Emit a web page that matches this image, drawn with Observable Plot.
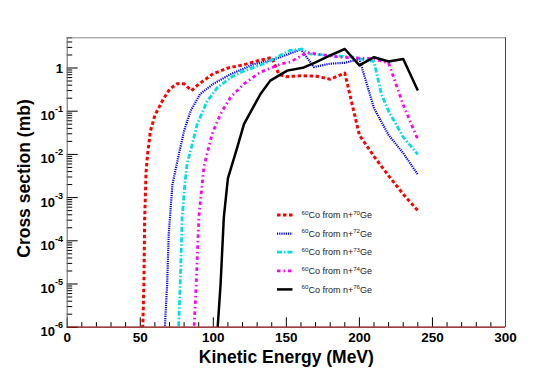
<!DOCTYPE html>
<html><head><meta charset="utf-8">
<script src="https://cdn.jsdelivr.net/npm/d3@7"></script>
<script src="https://cdn.jsdelivr.net/npm/@observablehq/plot@0.6"></script>
<style>body{margin:0;background:#fff} svg{display:block}</style>
</head><body><div id="chart"></div>
<script>
// ---- data (kinetic energy in MeV, cross section in mb) ----
const ge70E = [51.5, 52.5, 53, 54, 55, 57, 60, 65, 70, 75, 80, 85, 90, 100, 110, 120, 130, 140, 145, 150, 160, 170, 180, 190, 200, 210, 220, 230, 240];
const ge70V = [5e-7, 1e-5, 3e-4, 4e-3, 1e-2, 3.5e-2, 8e-2, 0.17, 0.32, 0.43, 0.43, 0.3, 0.42, 0.74, 1.0, 1.17, 1.45, 1.75, 0.7, 0.63, 0.66, 0.65, 0.55, 0.76, 0.028, 9e-3, 3.2e-3, 1.2e-3, 5e-4];

const ge72E = [66.5, 68.4, 69.5, 72, 76.4, 80, 84.4, 91, 100, 112, 128, 139, 150, 160, 168.8, 180, 190, 200, 210, 220, 230, 240];
const ge72V = [6e-7, 1e-5, 1.4e-4, 2e-3, 1e-2, 3.5e-2, 0.1, 0.25, 0.43, 0.72, 1.23, 1.48, 2.0, 2.7, 1.05, 1.26, 1.32, 1.6, 0.117, 0.028, 0.0107, 0.0034];

const ge73E = [76, 77.5, 78.7, 80.5, 82, 84.4, 89, 95.8, 102.7, 111.8, 120, 127.7, 137, 145, 152.8, 160.8, 166.5, 175, 185, 196, 201, 210, 215, 220, 230, 240];
const ge73V = [6e-7, 1.4e-5, 3.5e-4, 2e-3, 6e-3, 1.2e-2, 0.05, 0.17, 0.35, 0.6, 0.83, 1.03, 1.35, 1.9, 2.57, 2.75, 2.1, 2.0, 1.9, 1.78, 1.62, 1.41, 0.25, 0.1, 0.025, 0.01];

const ge74E = [86.5, 88.3, 90.1, 93.5, 96.2, 99.2, 105, 111.8, 121, 132.3, 146, 152.8, 164.3, 171, 187, 200, 210, 220, 230, 240];
const ge74V = [6e-7, 1e-5, 3.5e-4, 5e-3, 1.2e-2, 3e-2, 0.087, 0.21, 0.43, 0.8, 1.23, 1.38, 2.3, 2.1, 1.78, 1.7, 1.62, 1.3, 0.14, 0.022];

const ge76E = [102.8, 105, 107.2, 110, 116.4, 121, 132.3, 139, 150.6, 162, 170, 180, 190, 200, 210, 220, 230, 240];
const ge76V = [8e-7, 1e-5, 3.5e-4, 2.8e-3, 1.45e-2, 0.05, 0.25, 0.51, 0.87, 1.03, 1.35, 1.95, 2.75, 1.15, 1.78, 1.41, 1.62, 0.3];

const targets = ["70", "72", "73", "74", "76"];
const xMajor = [0, 50, 100, 150, 200, 250, 300];
const xMinor = [10, 20, 30, 40, 60, 70, 80, 90, 110, 120, 130, 140, 160, 170, 180, 190, 210, 220, 230, 240, 260, 270, 280, 290];
const yExp = [-6, -5, -4, -3, -2, -1, 0];
const xTitle = "Kinetic Energy (MeV)";
const yTitle = "Cross section (mb)";

// ---- styles ----
const styles = {
  "70": {color: "#ff0000", dash: "3.5 2.5", width: 3},
  "72": {color: "#0000ff", dash: "1.2 1", width: 2.2},
  "73": {color: "#00e0e0", dash: "5 2 1.5 2", width: 2.8},
  "74": {color: "#ff00ff", dash: "3.5 3 1.5 3", width: 2.8},
  "76": {color: "#000000", dash: "none", width: 2.5}
};
const seriesE = {"70": ge70E, "72": ge72E, "73": ge73E, "74": ge74E, "76": ge76E};
const seriesV = {"70": ge70V, "72": ge72V, "73": ge73V, "74": ge74V, "76": ge76V};

const rows = targets.flatMap(k => seriesE[k].map((e, i) => ({target: k, E: e, V: seriesV[k][i]})));
const yMajor = yExp.map(e => Math.pow(10, e));
const yMinor = [];
yMajor.forEach(d => { for (let k = 2; k <= 9; k++) if (d * k <= 5.0001) yMinor.push(d * k); });

const W = 545, H = 387, mL = 66.7, mR = 40, mT = 37.3, mB = 60.3;
const pw = W - mL - mR, ph = H - mT - mB;
const font = "'Liberation Sans', Arial, Helvetica, sans-serif";

const plot = Plot.plot({
  width: W, height: H,
  marginLeft: mL, marginRight: mR, marginTop: mT, marginBottom: mB,
  x: {domain: [0, 300], axis: null},
  y: {type: "log", domain: [1e-6, 5], axis: null},
  style: {background: "white", fontFamily: font},
  marks: [
    Plot.ruleX(xMinor, {stroke: "#000", strokeWidth: 1, insetTop: ph - 4.6}),
    Plot.ruleX(xMajor, {stroke: "#000", strokeWidth: 1, insetTop: ph - 9.4}),
    Plot.ruleY(yMinor, {stroke: "#000", strokeWidth: 1, insetRight: pw - 5.5}),
    Plot.ruleY(yMajor, {stroke: "#000", strokeWidth: 1, insetRight: pw - 11}),
    ...targets.map(k => Plot.line(rows.filter(r => r.target === k), {
      x: "E", y: "V", stroke: styles[k].color, strokeWidth: styles[k].width,
      strokeDasharray: styles[k].dash, strokeLinejoin: "round",
      clip: true, curve: "linear"
    })),
    Plot.ruleX([0], {stroke: "#666", strokeWidth: 1}),
    Plot.ruleX([300], {stroke: "#e00000", strokeWidth: 1}),
    Plot.ruleY([5], {stroke: "#888", strokeWidth: 1}),
    Plot.ruleY([1e-6], {stroke: "#800000", strokeWidth: 1.2}),
    Plot.text(xMajor, {x: d => d, frameAnchor: "bottom", dy: 10, text: d => String(d),
      fontSize: 13.5, fontWeight: "bold", fill: "#000", lineAnchor: "middle"}),
    Plot.text([150], {x: d => d, frameAnchor: "bottom", dy: 30, text: () => xTitle,
      fontSize: 17.5, fontWeight: "bold", fill: "#000", lineAnchor: "middle"})
  ]
});

const svg = d3.select(plot);
const ys = plot.scale("y");

// make sure each curve carries its line style (line groups are in target order)
svg.selectAll('g[aria-label="line"]').each(function(_, i) {
  const k = targets[i];
  if (!k) return;
  d3.select(this).selectAll("path")
    .style("stroke-dasharray", styles[k].dash)
    .style("stroke-linecap", "butt");
});

// y tick labels with superscript exponents
yExp.forEach(e => {
  const py = ys.apply(Math.pow(10, e));
  const t = svg.append("text")
    .attr("x", 63).attr("y", py + (e === 0 ? 1.5 : 4.5))
    .attr("text-anchor", "end").attr("dominant-baseline", "central")
    .attr("font-family", font).attr("font-weight", "bold").attr("font-size", 13)
    .attr("fill", "#000");
  if (e === 0) t.text("1");
  else {
    t.append("tspan").text("10");
    t.append("tspan").attr("dy", -6).attr("font-size", 9).text(String(e));
  }
});

// y title
svg.append("text")
  .attr("transform", `translate(24,178.5) rotate(-90)`)
  .attr("text-anchor", "middle").attr("dominant-baseline", "central")
  .attr("font-family", font).attr("font-weight", "bold").attr("font-size", 17.5)
  .attr("fill", "#000").text(yTitle);

// legend
const lg = svg.append("g");
targets.forEach((k, i) => {
  const cy = 215 + i * 18.6;
  lg.append("line").attr("x1", 277).attr("x2", 292.5).attr("y1", cy).attr("y2", cy)
    .attr("stroke", styles[k].color).attr("stroke-width", styles[k].width)
    .style("stroke-dasharray", styles[k].dash);
  const t = lg.append("text").attr("x", 301.5).attr("y", cy + 3.2)
    .attr("text-anchor", "start")
    .attr("font-family", font).attr("font-size", 9).attr("fill", "#222");
  t.append("tspan").attr("font-size", 6.2).attr("dy", -3.4).text("60");
  t.append("tspan").attr("dy", 3.4).text("Co from n+");
  t.append("tspan").attr("font-size", 6.2).attr("dy", -3.4).text(k);
  t.append("tspan").attr("dy", 3.4).text("Ge");
});

document.getElementById("chart").appendChild(plot);
</script>
</body></html>
